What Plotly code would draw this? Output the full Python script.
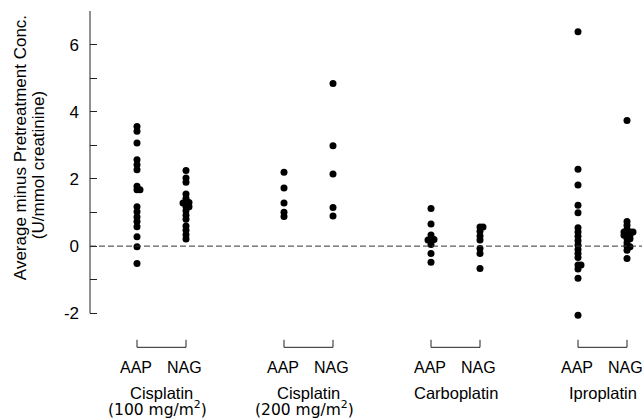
import plotly.graph_objects as go

# ---------------- data ----------------
group_names = ["Cisplatin", "Cisplatin", "Carboplatin", "Iproplatin"]
group_doses = ["(100 mg/m<sup>2</sup>)", "(200 mg/m<sup>2</sup>)", "", ""]
enzymes = ["AAP", "NAG"]

cis100_aap = [3.56, 3.42, 3.07, 2.57, 2.42, 2.27, 1.78, 1.68, 1.68, 1.17, 1.02,
              0.87, 0.73, 0.58, 0.28, -0.02, -0.52]
cis100_nag = [2.25, 2.03, 1.90, 1.55, 1.42, 1.30, 1.30, 1.28, 1.17, 1.17, 1.05,
              0.92, 0.80, 0.60, 0.47, 0.34, 0.21]
cis200_aap = [2.20, 1.73, 1.28, 1.01, 0.88]
cis200_nag = [4.84, 2.99, 2.15, 1.15, 0.90]
carbo_aap = [1.12, 0.66, 0.33, 0.20, 0.20, 0.18, 0.05, -0.22, -0.48]
carbo_nag = [0.57, 0.57, 0.44, 0.30, 0.18, -0.07, -0.22, -0.67]
ipro_aap = [6.38, 2.29, 1.82, 1.22, 0.99, 0.55, 0.42, 0.29, 0.16, 0.03, -0.10,
            -0.22, -0.34, -0.56, -0.56, -0.68, -0.96, -2.06]
ipro_nag = [3.74, 0.73, 0.62, 0.50, 0.42, 0.42, 0.42, 0.32, 0.32, 0.32, 0.22,
            0.22, 0.10, 0.00, -0.02, -0.12, -0.37]

series = [[cis100_aap, cis100_nag], [cis200_aap, cis200_nag],
          [carbo_aap, carbo_nag], [ipro_aap, ipro_nag]]

y_tick_vals = [-2, 0, 2, 4, 6]
y_tick_text = ["-2", "0", "2", "4", "6"]
y_minor_vals = [-1, 1, 3, 5, 7]
y_title_1 = "Average minus Pretreatment Conc."
y_title_2 = "(U/mmol creatinine)"

# ---------------- layout geometry ----------------
W, H = 644, 418
axis_lo, axis_hi = -2, 7          # extent of the drawn axis line
pad_lo = 0.2                       # room below -2 for the lowest point
ML, MR, MT = 90, 2, 11
px_per_y = 302.0 / (axis_hi - axis_lo)
y_range = [axis_lo - pad_lo, axis_hi]
plot_h = (y_range[1] - y_range[0]) * px_per_y
MB = H - MT - plot_h
plot_w = W - ML - MR
px_per_x = 49.0
x0 = -(137 - ML) / px_per_x
x_range = [x0, x0 + plot_w / px_per_x]
y_bottom_px = MT + plot_h


def swarm(values, step=3.0, thr=2.9):
    placed, offs = [], []
    cands = [0]
    for i in range(1, 12):
        cands += [i, -i]
    for v in values:
        dx = 0.0
        for c in cands:
            dx = c * step
            if all((dx - pdx) ** 2 + ((v - pv) * px_per_y) ** 2 >= thr ** 2
                   for pdx, pv in placed):
                break
        placed.append((dx, v))
        offs.append(dx / px_per_x)
    return offs


fig = go.Figure()
for g, pair in enumerate(series):
    for m, vals in enumerate(pair):
        base = 3 * g + m
        offs = swarm(vals)
        fig.add_trace(go.Scatter(
            x=[base + o for o in offs], y=vals, mode="markers",
            marker=dict(size=7, color="black"),
            showlegend=False, cliponaxis=False, hoverinfo="y"))

font = "Liberation Sans, Arial, sans-serif"
font_wide = "DejaVu Sans, Verdana, sans-serif"

# y axis line (from -2 to 7)
fig.add_shape(type="line", xref="paper", x0=0, x1=0, yref="y", y0=axis_lo, y1=axis_hi,
              line=dict(color="#222", width=1))
# zero reference line
fig.add_shape(type="line", xref="paper", x0=0, x1=1, yref="y", y0=0, y1=0,
              line=dict(color="#333", width=1, dash="6px,3px"))


def ppy(py):
    return (y_bottom_px - py) / plot_h


annotations = []
for g in range(len(group_names)):
    a, n = 3 * g, 3 * g + 1
    yb, yt = ppy(347), ppy(339.5)
    fig.add_shape(type="path", xref="x", yref="paper",
                  path=f"M {a},{yt} L {a},{yb} L {n},{yb} L {n},{yt}",
                  line=dict(color="#222", width=1))
    for m, lab in enumerate(enzymes):
        annotations.append(dict(x=3 * g + m - 0.03, y=ppy(367.5), xref="x", yref="paper",
                                text=lab, showarrow=False, xanchor="center",
                                yanchor="middle", font=dict(size=16, color="black", family=font)))
    cx = 3 * g + 0.5
    annotations.append(dict(x=cx, y=ppy(393), xref="x", yref="paper", text=group_names[g],
                            showarrow=False, xanchor="center", yanchor="middle",
                            font=dict(size=16.5, color="black", family=font)))
    if group_doses[g]:
        annotations.append(dict(x=cx - 0.08, y=ppy(408), xref="x", yref="paper",
                                text=group_doses[g], showarrow=False, xanchor="center",
                                yanchor="middle",
                                font=dict(size=15.5, color="black", family=font_wide)))


def ppx(px):
    return (px - ML) / plot_w


annotations.append(dict(x=ppx(20), y=ppy(148), xref="paper", yref="paper", text=y_title_1,
                        textangle=-90, showarrow=False, xanchor="center", yanchor="middle",
                        font=dict(size=17, color="black", family=font)))
annotations.append(dict(x=ppx(38), y=ppy(165), xref="paper", yref="paper", text=y_title_2,
                        textangle=-90, showarrow=False, xanchor="center", yanchor="middle",
                        font=dict(size=17, color="black", family=font)))

fig.update_layout(
    width=W, height=H,
    margin=dict(l=ML, r=MR, t=MT, b=MB, pad=0),
    paper_bgcolor="white", plot_bgcolor="white",
    font=dict(family=font, color="black"),
    annotations=annotations,
    xaxis=dict(range=x_range, showgrid=False, zeroline=False, showline=False,
               showticklabels=False, ticks="", fixedrange=True),
    yaxis=dict(range=y_range, showgrid=False, zeroline=False, showline=False,
               ticks="inside", ticklen=7,
               tickcolor="#222", tickwidth=1, tickvals=y_tick_vals,
               ticktext=y_tick_text, ticklabelstandoff=10,
               minor=dict(tickvals=y_minor_vals, ticks="inside", ticklen=7,
                          tickcolor="#222", tickwidth=1, showgrid=False),
               tickfont=dict(size=17, color="black", family=font), fixedrange=True),
)

fig.write_html("out.html", config={"displayModeBar": False},
               post_script="document.body.style.margin='0';document.body.style.padding='0';")
